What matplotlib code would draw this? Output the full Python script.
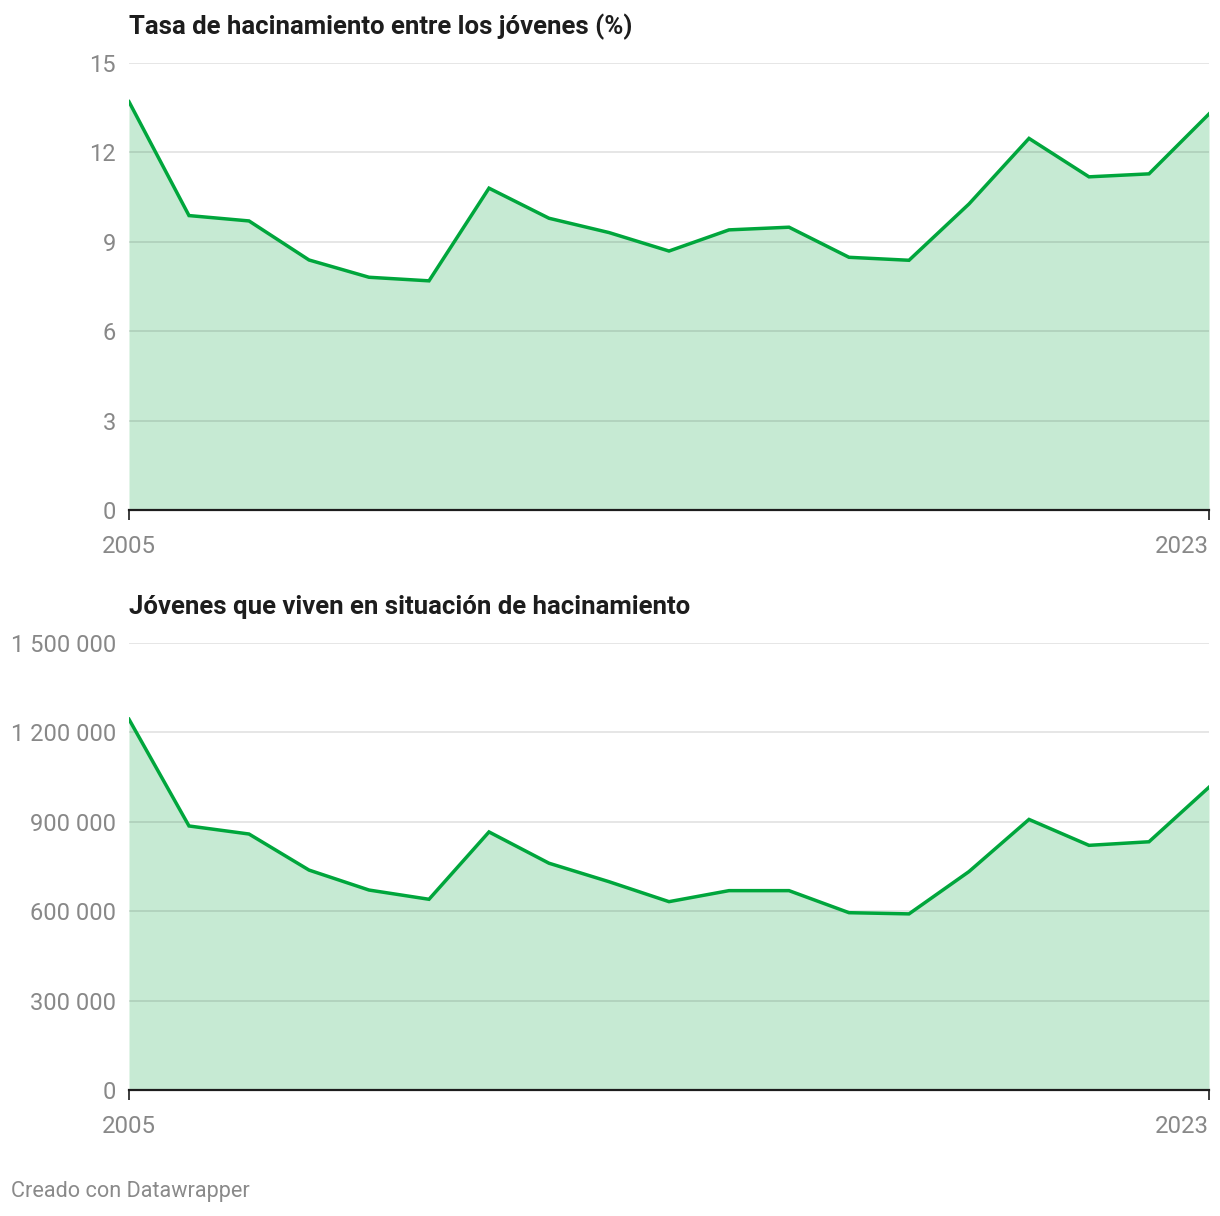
import matplotlib.pyplot as plt
from matplotlib.ticker import FuncFormatter

plt.rcParams['font.family'] = ['Roboto', 'DejaVu Sans']

years = list(range(2005, 2024))
tasa = [13.70, 9.88, 9.70, 8.39, 7.81, 7.69, 10.80, 9.79, 9.31, 8.69,
        9.40, 9.49, 8.48, 8.38, 10.27, 12.47, 11.18, 11.28, 13.29]
jovenes = [1244000, 886000, 859000, 738000, 671000, 640000, 866000, 761000,
           699000, 632000, 669000, 669000, 595000, 591000, 733000, 908000,
           821000, 833000, 1016000]

titles = ["Tasa de hacinamiento entre los jóvenes (%)",
          "Jóvenes que viven en situación de hacinamiento"]
yticks_top = [0, 3, 6, 9, 12, 15]
yticks_bot = [0, 300000, 600000, 900000, 1200000, 1500000]

line_c = "#00a63c"
fill_c = "#c6ead3"
gray = "#888888"

W, H = 1220, 1216
fig = plt.figure(figsize=(W / 100, H / 100), dpi=100)

def px_axes(left, right, top, bottom):
    return fig.add_axes([left / W, 1 - bottom / H, (right - left) / W, (bottom - top) / H])

ax1 = px_axes(129, 1209, 63, 510)
ax2 = px_axes(129, 1209, 643, 1090)

def style(ax, values, ymax, ticks, fmt):
    ax.fill_between(years, values, 0, color=fill_c, lw=0, zorder=1)
    ax.plot(years, values, color=line_c, lw=2.5, zorder=3, solid_joinstyle="miter")
    ax.set_xlim(years[0], years[-1])
    ax.set_ylim(0, ymax)
    ax.set_yticks(ticks)
    ax.yaxis.set_major_formatter(FuncFormatter(fmt))
    for t in ticks[1:]:
        ax.axhline(t, color="black", alpha=0.1, lw=1.4, zorder=2)
    for s in ["left", "right", "top"]:
        ax.spines[s].set_visible(False)
    ax.spines["bottom"].set_color("#1d1d1d")
    ax.spines["bottom"].set_linewidth(1.6)
    ax.spines["bottom"].set_zorder(4)
    ax.tick_params(axis="y", length=0, pad=9.5, labelsize=17, labelcolor=gray)
    ax.set_xticks([years[0], years[-1]])
    ax.set_xticklabels([str(years[0]), str(years[-1])])
    ax.tick_params(axis="x", length=7, width=1.2, color="#1d1d1d", pad=11,
                   labelsize=17.3, labelcolor=gray)
    labels = ax.get_xticklabels()
    labels[0].set_ha("center")
    labels[-1].set_ha("right")
    ax.set_facecolor("none")

style(ax1, tasa, 15, yticks_top, lambda v, p: f"{v:.0f}")
style(ax2, jovenes, 1500000, yticks_bot, lambda v, p: f"{v:,.0f}".replace(",", " "))

fig.text(129 / W, 1 - 27 / H, titles[0], fontsize=18.5, fontweight="bold",
         color="#1d1d1d", va="center", ha="left")
fig.text(129 / W, 1 - 607 / H, titles[1], fontsize=18.5, fontweight="bold",
         color="#1d1d1d", va="center", ha="left")
fig.text(11 / W, 1 - 1192 / H, "Creado con Datawrapper", fontsize=15.6,
         color="#8a8a8a", va="center", ha="left")

fig.savefig("out.png", dpi=100, facecolor="white")
